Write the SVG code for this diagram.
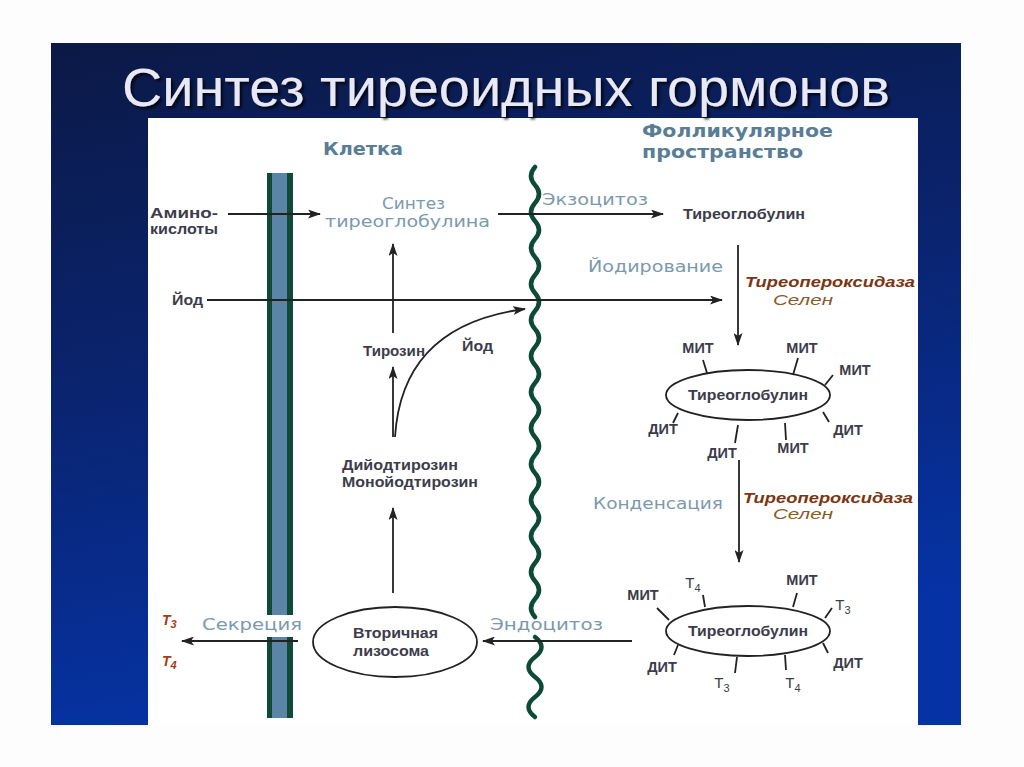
<svg xmlns="http://www.w3.org/2000/svg" width="1024" height="767" viewBox="0 0 1024 767">
<defs>
<linearGradient id="bg" x1="0" y1="0" x2="0.25" y2="1">
<stop offset="0" stop-color="#0b1946"/>
<stop offset="0.5" stop-color="#0a2470"/>
<stop offset="1" stop-color="#0533a6"/>
</linearGradient>
<filter id="sh" x="-5%" y="-20%" width="110%" height="150%">
<feDropShadow dx="2.5" dy="2.5" stdDeviation="1" flood-color="#000" flood-opacity="0.7"/>
</filter>
<marker id="ah" markerWidth="13" markerHeight="9" refX="12" refY="4.5" orient="auto" markerUnits="userSpaceOnUse">
<path d="M0,0 L13,4.5 L0,9 L3,4.5 Z" fill="#222"/>
</marker>
<style>
.ln{stroke:#222;stroke-width:1.8;fill:none}
.arr{stroke:#222;stroke-width:1.8;fill:none;marker-end:url(#ah)}
.ell{stroke:#222;stroke-width:1.8;fill:#fff}
.hd{font-family:"DejaVu Sans",sans-serif;font-weight:bold;font-size:17px;fill:#5a7d96}
.lt{font-family:"DejaVu Sans",sans-serif;font-size:16px;fill:#7b99ae}
.dk{font-family:"Liberation Sans",Arial,sans-serif;font-weight:bold;font-size:14px;fill:#3c3c4a}
.lb{font-family:"Liberation Sans",Arial,sans-serif;font-weight:bold;font-size:14.5px;fill:#3c3c4a;text-anchor:middle}
.tl{font-family:"Liberation Sans",Arial,sans-serif;font-size:15px;fill:#3c3c4a;text-anchor:middle}
.en{font-family:"Liberation Sans",Arial,sans-serif;font-weight:bold;font-style:italic;font-size:14.5px;fill:#7a3512}
.se{font-family:"Liberation Sans",Arial,sans-serif;font-style:italic;font-size:14.5px;fill:#8a5a28}
.th{font-family:"Liberation Sans",Arial,sans-serif;font-weight:bold;font-style:italic;font-size:14px;fill:#a33c18}
.ttl{font-family:"Liberation Sans",Arial,sans-serif;font-size:54px}
.mem{stroke:#0e4a38;stroke-width:4.5;fill:none;stroke-linecap:round}
</style>
</defs>
<rect width="1024" height="767" fill="#fdfdfd"/>
<rect x="51" y="43" width="910" height="682" fill="url(#bg)"/>
<rect x="148" y="118" width="770" height="607" fill="#ffffff"/>
<g id="title">
<text class="ttl" x="122" y="106" textLength="768" lengthAdjust="spacingAndGlyphs" fill="#e8e8f6" filter="url(#sh)">Синтез тиреоидных гормонов</text>
</g>
<g id="cell-membrane">
<rect x="267" y="173" width="26" height="444" fill="#0e4a38"/>
<rect x="272" y="173" width="15" height="444" fill="#5b84a6"/>
<rect x="267" y="637" width="26" height="81" fill="#0e4a38"/>
<rect x="272" y="637" width="15" height="81" fill="#5b84a6"/>
</g>
<g id="apical-membrane">
<path class="mem" d="M535,167 q-8,9 0,18 t0,18 t0,18 t0,18 t0,18 t0,18 t0,18 t0,18 t0,18 t0,18 t0,18 t0,18 t0,18 t0,18 t0,18 t0,18 t0,18 t0,18 t0,18 t0,18 t0,18 t0,18 t0,18 t0,18 t0,18"/>
<path class="mem" d="M535,637 q13,10 0,20 t0,20 t0,20 t0,20"/>
</g>
<g id="headers">
<text class="hd" x="323" y="155" textLength="80" lengthAdjust="spacingAndGlyphs">Клетка</text>
<text class="hd" x="642" y="137" textLength="191" lengthAdjust="spacingAndGlyphs">Фолликулярное</text>
<text class="hd" x="642" y="158" textLength="161" lengthAdjust="spacingAndGlyphs">пространство</text>
</g>
<g id="connectors">
<line class="arr" x1="228" y1="214" x2="320" y2="214"/>
<line class="arr" x1="207" y1="300" x2="722" y2="300"/>
<line class="arr" x1="498" y1="214" x2="663" y2="214"/>
<line class="arr" x1="393" y1="333" x2="393" y2="244"/>
<line class="arr" x1="393" y1="437" x2="393" y2="367"/>
<path class="arr" d="M395,437 Q402,325 525,309"/>
<line class="arr" x1="393" y1="593" x2="393" y2="508"/>
<line class="arr" x1="738" y1="245" x2="738" y2="345"/>
<line class="arr" x1="739" y1="460" x2="739" y2="562"/>
<line class="arr" x1="632" y1="641" x2="483" y2="641"/>
<line class="arr" x1="298" y1="641" x2="182" y2="641"/>
</g>
<g id="aminoacids">
<text class="dk" x="150" y="218" textLength="68" lengthAdjust="spacingAndGlyphs">Амино-</text>
<text class="dk" x="150" y="234" textLength="68" lengthAdjust="spacingAndGlyphs">кислоты</text>
</g>
<g id="iodine-in"><text class="dk" x="172" y="305" textLength="31" lengthAdjust="spacingAndGlyphs">Йод</text></g>
<g id="tg-synthesis">
<text class="lt" x="382" y="209" textLength="63" lengthAdjust="spacingAndGlyphs">Синтез</text>
<text class="lt" x="325" y="227" textLength="165" lengthAdjust="spacingAndGlyphs">тиреоглобулина</text>
</g>
<g id="exocytosis"><text class="lt" x="542" y="205" textLength="106" lengthAdjust="spacingAndGlyphs">Экзоцитоз</text></g>
<g id="tg-out"><text class="dk" x="683" y="219" textLength="122" lengthAdjust="spacingAndGlyphs">Тиреоглобулин</text></g>
<g id="iodination">
<text class="lt" x="588" y="272" textLength="135" lengthAdjust="spacingAndGlyphs">Йодирование</text>
<text class="en" x="745" y="287" textLength="170" lengthAdjust="spacingAndGlyphs">Тиреопероксидаза</text>
<text class="se" x="773" y="305" textLength="60" lengthAdjust="spacingAndGlyphs">Селен</text>
</g>
<g id="tyrosine"><text class="dk" x="363" y="356" textLength="62" lengthAdjust="spacingAndGlyphs">Тирозин</text></g>
<g id="iodine-out"><text class="dk" x="462" y="351" textLength="31" lengthAdjust="spacingAndGlyphs">Йод</text></g>
<g id="dit-mit">
<text class="dk" x="342" y="470" textLength="116" lengthAdjust="spacingAndGlyphs">Дийодтирозин</text>
<text class="dk" x="342" y="487" textLength="136" lengthAdjust="spacingAndGlyphs">Монойодтирозин</text>
</g>
<g id="tg-iodinated">
<ellipse class="ell" cx="748" cy="395" rx="82" ry="25"/>
<text class="dk" x="688" y="400" textLength="120" lengthAdjust="spacingAndGlyphs">Тиреоглобулин</text>
<path class="ln" d="M703,360 L707,373 M798,358 L793,375 M833,375 L825,385 M678,413 L673,423 M738,425 L735,443 M785,423 L786,440 M823,412 L829,422"/>
<text class="lb" x="698" y="353">МИТ</text>
<text class="lb" x="802" y="353">МИТ</text>
<text class="lb" x="855" y="375">МИТ</text>
<text class="lb" x="663" y="434">ДИТ</text>
<text class="lb" x="722" y="458">ДИТ</text>
<text class="lb" x="793" y="453">МИТ</text>
<text class="lb" x="848" y="435">ДИТ</text>
</g>
<g id="condensation">
<text class="lt" x="593" y="509" textLength="130" lengthAdjust="spacingAndGlyphs">Конденсация</text>
<text class="en" x="743" y="503" textLength="170" lengthAdjust="spacingAndGlyphs">Тиреопероксидаза</text>
<text class="se" x="773" y="519" textLength="60" lengthAdjust="spacingAndGlyphs">Селен</text>
</g>
<g id="tg-hormones">
<ellipse class="ell" cx="748" cy="631" rx="82" ry="25"/>
<text class="dk" x="688" y="636" textLength="120" lengthAdjust="spacingAndGlyphs">Тиреоглобулин</text>
<path class="ln" d="M657,608 L669,620 M703,595 L705,607 M797,593 L793,607 M832,608 L825,618 M678,645 L674,655 M737,657 L735,673 M785,655 L786,670 M823,643 L828,653"/>
<text class="lb" x="643" y="600">МИТ</text>
<text class="tl" x="693" y="588">Т<tspan font-size="11" dy="4">4</tspan></text>
<text class="lb" x="802" y="585">МИТ</text>
<text class="tl" x="843" y="610">Т<tspan font-size="11" dy="4">3</tspan></text>
<text class="lb" x="662" y="672">ДИТ</text>
<text class="tl" x="722" y="688">Т<tspan font-size="11" dy="4">3</tspan></text>
<text class="tl" x="793" y="688">Т<tspan font-size="11" dy="4">4</tspan></text>
<text class="lb" x="848" y="668">ДИТ</text>
</g>
<g id="lysosome">
<ellipse class="ell" cx="395" cy="642" rx="82" ry="35"/>
<text class="dk" x="353" y="638" textLength="85" lengthAdjust="spacingAndGlyphs" fill="#505060">Вторичная</text>
<text class="dk" x="353" y="656" textLength="76" lengthAdjust="spacingAndGlyphs" fill="#505060">лизосома</text>
</g>
<g id="endocytosis"><text class="lt" x="490" y="630" textLength="113" lengthAdjust="spacingAndGlyphs">Эндоцитоз</text></g>
<g id="secretion">
<rect x="200" y="615" width="104" height="19" fill="#fff"/>
<text class="lt" x="202" y="630" textLength="100" lengthAdjust="spacingAndGlyphs">Секреция</text>
</g>
<g id="hormones-out">
<text class="th" x="162" y="625">Т<tspan font-size="11" dy="3">3</tspan></text>
<text class="th" x="162" y="666">Т<tspan font-size="11" dy="3">4</tspan></text>
</g>
</svg>
